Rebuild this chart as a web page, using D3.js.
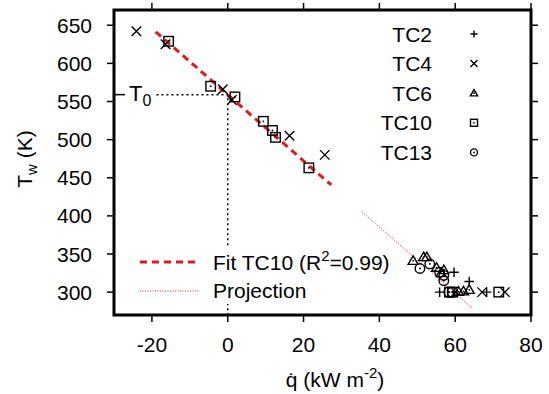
<!DOCTYPE html>
<html>
<head>
<meta charset="utf-8">
<script src="https://cdn.jsdelivr.net/npm/d3@7"></script>
<style>
  body { margin: 0; background: #fff; }
  svg { font-family: "Liberation Sans", Arial, Helvetica, sans-serif; }
</style>
</head>
<body>
<svg id="chart" width="549" height="394"></svg>
<script>
// Tw vs heat flux, thermocouples TC2..TC13, linear fit on TC10
const tc2  = [[55.9, 300], [59.7, 326], [63.7, 314], [68.3, 300]];
const tc4  = [[-24.1, 642], [-16.4, 625], [-1.3, 566], [1.1, 552], [16.3, 505], [25.6, 480], [67.1, 300], [73.1, 300]];
const tc6  = [[48.9, 341], [51.7, 346], [52.5, 346], [55.1, 332], [56.3, 325], [57.0, 329], [60.9, 300.5], [62.2, 301], [63.7, 303]];
const tc10 = [[-15.6, 629], [-4.5, 570], [1.9, 556], [9.4, 524], [11.8, 512], [12.6, 503], [21.4, 463], [58.5, 300], [59.3, 300], [71.5, 300]];
const tc13 = [[50.7, 331], [53.3, 337], [55.9, 326], [57.0, 322], [57.0, 315], [58.3, 300], [59.2, 300]];

const fitSlope = -4.34, fitT0 = 559;
const fitRange  = [-19, 27.3];
const projRange = [35.5, 64.5];

const xTicks = [-20, 0, 20, 40, 60, 80];
const yTicks = [300, 350, 400, 450, 500, 550, 600, 650];

const series = [
  { name: "TC2",  pts: tc2,  sym: "plus" },
  { name: "TC4",  pts: tc4,  sym: "cross" },
  { name: "TC6",  pts: tc6,  sym: "tri" },
  { name: "TC10", pts: tc10, sym: "box" },
  { name: "TC13", pts: tc13, sym: "circ" },
];

const RED = "#e8161b";
const FS = 21;
const L = 114, T = 10, R = 531, B = 315;
const svg = d3.select("#chart");
const x = d3.scaleLinear().domain([-30, 80]).range([L, R]);
const y = d3.scaleLinear().domain([270, 670]).range([B, T]);
const fit = v => fitT0 + fitSlope * v;

// ── ticks (outward on all four sides) ──
const tk = svg.append("g").attr("stroke", "#000").attr("stroke-width", 1.5);
xTicks.forEach(v => {
  tk.append("line").attr("x1", x(v)).attr("x2", x(v)).attr("y1", B).attr("y2", B + 7);
  tk.append("line").attr("x1", x(v)).attr("x2", x(v)).attr("y1", T).attr("y2", T - 7);
});
yTicks.forEach(v => {
  tk.append("line").attr("y1", y(v)).attr("y2", y(v)).attr("x1", L).attr("x2", L - 7);
  tk.append("line").attr("y1", y(v)).attr("y2", y(v)).attr("x1", R).attr("x2", R + 7);
});
svg.append("g").selectAll("text").data(xTicks).join("text")
  .attr("x", d => x(d)).attr("y", 352).attr("text-anchor", "middle")
  .attr("font-size", FS).text(d => d);
svg.append("g").selectAll("text").data(yTicks).join("text")
  .attr("x", 92).attr("y", d => y(d)).attr("dy", "0.36em").attr("text-anchor", "end")
  .attr("font-size", FS).text(d => d);

// axis titles
const xt = svg.append("text").attr("x", 335).attr("y", 387).attr("text-anchor", "middle").attr("font-size", FS);
xt.append("tspan").text("q\u0307 (kW m");
xt.append("tspan").attr("font-size", 15).attr("dy", -9).text("-2");
xt.append("tspan").attr("dy", 9).text(")");
const yt = svg.append("text").attr("transform", "translate(32,159) rotate(-90)").attr("text-anchor", "middle").attr("font-size", FS);
yt.append("tspan").text("T");
yt.append("tspan").attr("font-size", 15).attr("dy", 5).text("w");
yt.append("tspan").attr("dy", -5).text(" (K)");

// ── T0 guide ──
svg.append("path")
  .attr("d", `M${x(-18.8)},${y(fitT0)}H${x(0)}V${B}`)
  .attr("fill", "none").attr("stroke", "#000").attr("stroke-width", 1.5).attr("stroke-dasharray", "2 3");
svg.append("line").attr("x1", L).attr("x2", L + 11).attr("y1", y(fitT0)).attr("y2", y(fitT0))
  .attr("stroke", "#000").attr("stroke-width", 1.5);
const t0 = svg.append("text").attr("x", 129).attr("y", y(fitT0) + 6).attr("font-size", 22);
t0.append("tspan").text("T");
t0.append("tspan").attr("font-size", 16).attr("dy", 5).text("0");

// ── fit + projection ──
svg.append("line")
  .attr("x1", x(fitRange[0])).attr("y1", y(fit(fitRange[0])))
  .attr("x2", x(fitRange[1])).attr("y2", y(fit(fitRange[1])))
  .attr("stroke", RED).attr("stroke-width", 3).attr("stroke-dasharray", "7 5");
svg.append("line")
  .attr("x1", x(projRange[0])).attr("y1", y(fit(projRange[0])))
  .attr("x2", x(projRange[1])).attr("y2", y(fit(projRange[1])))
  .attr("stroke", RED).attr("stroke-width", 1).attr("stroke-dasharray", "1 1.5");

// ── bottom legend (opaque box) ──
svg.append("rect").attr("x", 133).attr("y", 246).attr("width", 263).attr("height", 58).attr("fill", "#fff");
svg.append("line").attr("x1", 140).attr("x2", 200).attr("y1", 262).attr("y2", 262)
  .attr("stroke", RED).attr("stroke-width", 3).attr("stroke-dasharray", "7 5");
svg.append("line").attr("x1", 140).attr("x2", 199).attr("y1", 291).attr("y2", 291)
  .attr("stroke", RED).attr("stroke-width", 1).attr("stroke-dasharray", "1 1.5");
const lf = svg.append("text").attr("x", 213).attr("y", 270).attr("font-size", FS);
lf.append("tspan").text("Fit TC10 (R");
lf.append("tspan").attr("font-size", 15).attr("dy", -9).text("2");
lf.append("tspan").attr("dy", 9).text("=0.99)");
svg.append("text").attr("x", 213).attr("y", 298).attr("font-size", FS).text("Projection");

// ── markers ──
function marker(g, sym, cx, cy, s) {
  const h = s / 2;
  const p = g.append("g").attr("transform", `translate(${cx},${cy})`)
    .attr("fill", "none").attr("stroke", "#000").attr("stroke-width", 1.4);
  const dot = () => p.append("circle").attr("r", 0.9).attr("fill", "#000").attr("stroke", "none");
  if (sym === "plus") p.append("path").attr("d", `M${-h},0H${h}M0,${-h}V${h}`);
  if (sym === "cross") p.append("path").attr("d", `M${-h},${-h}L${h},${h}M${-h},${h}L${h},${-h}`);
  if (sym === "tri") { p.append("path").attr("d", `M0,${-h * 1.05}L${h * 1.05},${h * 0.75}H${-h * 1.05}Z`); dot(); }
  if (sym === "box") { p.append("rect").attr("x", -h).attr("y", -h).attr("width", s).attr("height", s); dot(); }
  if (sym === "circ") { p.append("circle").attr("r", h); dot(); }
}
const mg = svg.append("g");
series.forEach(sr => sr.pts.forEach(([v, t]) => marker(mg, sr.sym, x(v), y(t), 9.5)));

// ── top-right legend ──
series.forEach((sr, i) => {
  const yy = 34 + i * 29.6;
  svg.append("text").attr("x", 432).attr("y", yy).attr("dy", "0.36em").attr("text-anchor", "end")
    .attr("font-size", FS).text(sr.name);
  marker(svg, sr.sym, 474, yy, 7);
});

// ── frame ──
svg.append("rect").attr("x", L).attr("y", T).attr("width", R - L).attr("height", B - T)
  .attr("fill", "none").attr("stroke", "#000").attr("stroke-width", 3);
</script>
</body>
</html>
